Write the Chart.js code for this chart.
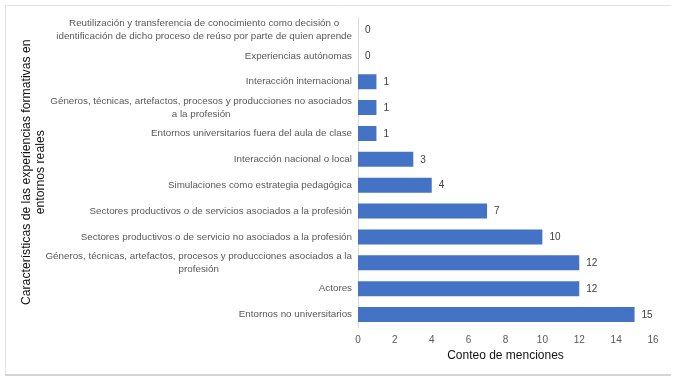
<!DOCTYPE html>
<html>
<head>
<meta charset="utf-8">
<script src="https://cdn.jsdelivr.net/npm/chart.js@4/dist/chart.umd.min.js"></script>
<style>
html,body{margin:0;padding:0;background:#fff;}
#wrap{position:relative;width:678px;height:382px;}
</style>
</head>
<body>
<div id="wrap"><canvas id="c" width="678" height="382"></canvas></div>
<script>
const categories = [
  ["Reutilización y transferencia de conocimiento como decisión o", "identificación de dicho proceso de reúso por parte de quien aprende"],
  ["Experiencias autónomas"],
  ["Interacción internacional"],
  ["Géneros, técnicas, artefactos, procesos y producciones no asociados", "a la profesión"],
  ["Entornos universitarios fuera del aula de clase"],
  ["Interacción nacional o local"],
  ["Simulaciones como estrategia pedagógica"],
  ["Sectores productivos o de servicios asociados a la profesión"],
  ["Sectores productivos o de servicio no asociados a la profesión"],
  ["Géneros, técnicas, artefactos, procesos y producciones asociados a la", "profesión"],
  ["Actores"],
  ["Entornos no universitarios"]
];
const mentions = [0, 0, 1, 1, 1, 3, 4, 7, 10, 12, 12, 15];
const yTitleLines = ["Características de las experiencias formativas en", "entornos reales"];
const xTitle = "Conteo de menciones";
const xTickMin = 0, xTickMax = 16, xTickStep = 2;

const FONT = "'Liberation Sans', Arial, sans-serif";

const framePlugin = {
  id: 'frame',
  beforeDraw(chart) {
    const ctx = chart.ctx;
    ctx.save();
    ctx.strokeStyle = '#e3e3e3';
    ctx.lineWidth = 1;
    ctx.beginPath();
    ctx.moveTo(5.5, 375); ctx.lineTo(5.5, 5.5); ctx.lineTo(671, 5.5);
    ctx.stroke();
    ctx.strokeStyle = '#d4d4d4';
    ctx.lineWidth = 2;
    ctx.beginPath();
    ctx.moveTo(5, 375); ctx.lineTo(671, 375);
    ctx.stroke();
    ctx.restore();
  }
};

const labelsPlugin = {
  id: 'customLabels',
  afterDraw(chart) {
    const ctx = chart.ctx;
    const yScale = chart.scales.y;
    const area = chart.chartArea;
    ctx.save();
    ctx.font = "9.8px " + FONT;
    ctx.fillStyle = '#595959';
    ctx.textAlign = 'center';
    ctx.textBaseline = 'middle';
    const rightEdge = area.left - 6;
    const lh = 12.5;
    categories.forEach((lines, i) => {
      const yc = yScale.getPixelForTick(i);
      const w = Math.max(...lines.map(l => ctx.measureText(l).width));
      const xc = rightEdge - w / 2;
      const y0 = yc - (lines.length - 1) * lh / 2;
      lines.forEach((l, k) => ctx.fillText(l, xc, y0 + k * lh));
    });
    ctx.font = "10px " + FONT;
    ctx.fillStyle = '#404040';
    ctx.textAlign = 'left';
    const meta = chart.getDatasetMeta(0);
    meta.data.forEach((bar, i) => {
      ctx.fillText(String(mentions[i]), bar.x + 7, bar.y + 0.5);
    });
    ctx.font = "12.2px " + FONT;
    ctx.fillStyle = '#111111';
    ctx.textAlign = 'center';
    ctx.translate(27, (area.top + area.bottom) / 2);
    ctx.rotate(-Math.PI / 2);
    yTitleLines.forEach((l, k) => ctx.fillText(l, 0, k * 14));
    ctx.restore();
  }
};

new Chart(document.getElementById('c'), {
  type: 'bar',
  data: {
    labels: categories,
    datasets: [{
      data: mentions,
      backgroundColor: '#4472C4',
      borderWidth: 0,
      barPercentage: 0.58,
      categoryPercentage: 1
    }]
  },
  options: {
    indexAxis: 'y',
    responsive: false,
    animation: false,
    devicePixelRatio: 1,
    layout: { padding: { left: 0, right: 25, top: 17, bottom: 0 } },
    plugins: { legend: { display: false }, tooltip: { enabled: false } },
    scales: {
      x: {
        min: xTickMin, max: xTickMax,
        ticks: { stepSize: xTickStep, color: '#595959', font: { size: 10, family: FONT }, padding: 7 },
        grid: { display: false, drawTicks: false },
        border: { display: false },
        title: { display: true, text: xTitle, color: '#111111', font: { size: 12, family: FONT }, padding: { top: 0, bottom: 19 } },
        afterFit(s) { s.height = 54.5; }
      },
      y: {
        ticks: { display: false },
        grid: { display: false, drawTicks: false },
        border: { display: true, color: '#d9d9d9', width: 1 },
        afterFit(s) { s.width = 358; }
      }
    }
  },
  plugins: [framePlugin, labelsPlugin]
});
</script>
</body>
</html>
